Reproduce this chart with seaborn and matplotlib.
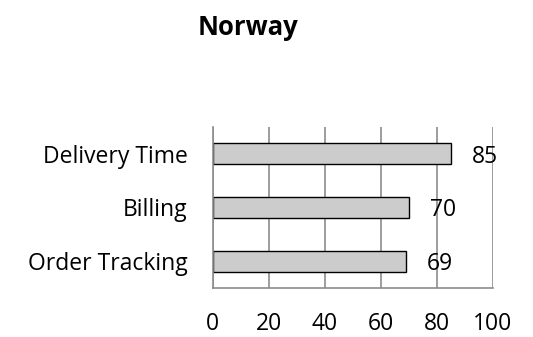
import matplotlib
matplotlib.use("Agg")
import matplotlib.pyplot as plt
import seaborn as sns
import pandas as pd

categories = ["Delivery Time", "Billing", "Order Tracking"]
scores = [85, 70, 69]
x_ticks = [0, 20, 40, 60, 80, 100]

sns.set_theme(style="white")
plt.rcParams["font.family"] = ["Open Sans", "DejaVu Sans"]
plt.rcParams["text.color"] = "black"
plt.rcParams["xtick.color"] = "black"
plt.rcParams["ytick.color"] = "black"

df = pd.DataFrame({"category": categories, "score": scores})

FS = 16.5
GRID = "#8c8c8c"

fig = plt.figure(figsize=(5.33, 3.37), dpi=100)
ax = fig.add_axes([212.5 / 533, 1 - 288 / 337, 280.5 / 533, 161 / 337])

sns.barplot(data=df, x="score", y="category", ax=ax, orient="h",
            color="#cccccc", edgecolor="black", linewidth=1.0,
            width=0.39, saturation=1)

ax.set_xlim(0, 100)
ax.set_ylim(2.5, -0.5)
ax.set_xticks(x_ticks)
ax.set_xticklabels([str(t) for t in x_ticks], fontsize=FS)
ax.set_yticks([-0.5, 0.5, 1.5, 2.5], minor=False)
ax.set_yticklabels([])
ax.set_yticks([0, 1, 2], minor=True)
ax.set_yticklabels(categories, minor=True, fontsize=FS)
ax.tick_params(axis="y", which="minor", length=0, pad=18)
ax.tick_params(axis="y", which="major", length=5, color=GRID, width=1.2)
ax.tick_params(axis="x", length=7, color=GRID, width=1.2, pad=10)
ax.set_xlabel("")
ax.set_ylabel("")

ax.xaxis.grid(True, color=GRID, linewidth=1.2)
ax.set_axisbelow(True)
for side in ["top", "right"]:
    ax.spines[side].set_visible(False)
for side in ["left", "bottom"]:
    ax.spines[side].set_color(GRID)
    ax.spines[side].set_linewidth(1.2)

for i, v in enumerate(scores):
    ax.annotate(str(v), xy=(v, i), xytext=(15, -2), textcoords="offset points",
                va="center", ha="left", fontsize=FS, color="black")

fig.text(248 / 533, 1 - 35 / 337, "Norway", ha="center", va="baseline",
         fontsize=18.5, fontweight="bold")

fig.savefig("out.png", dpi=100, facecolor="white")
